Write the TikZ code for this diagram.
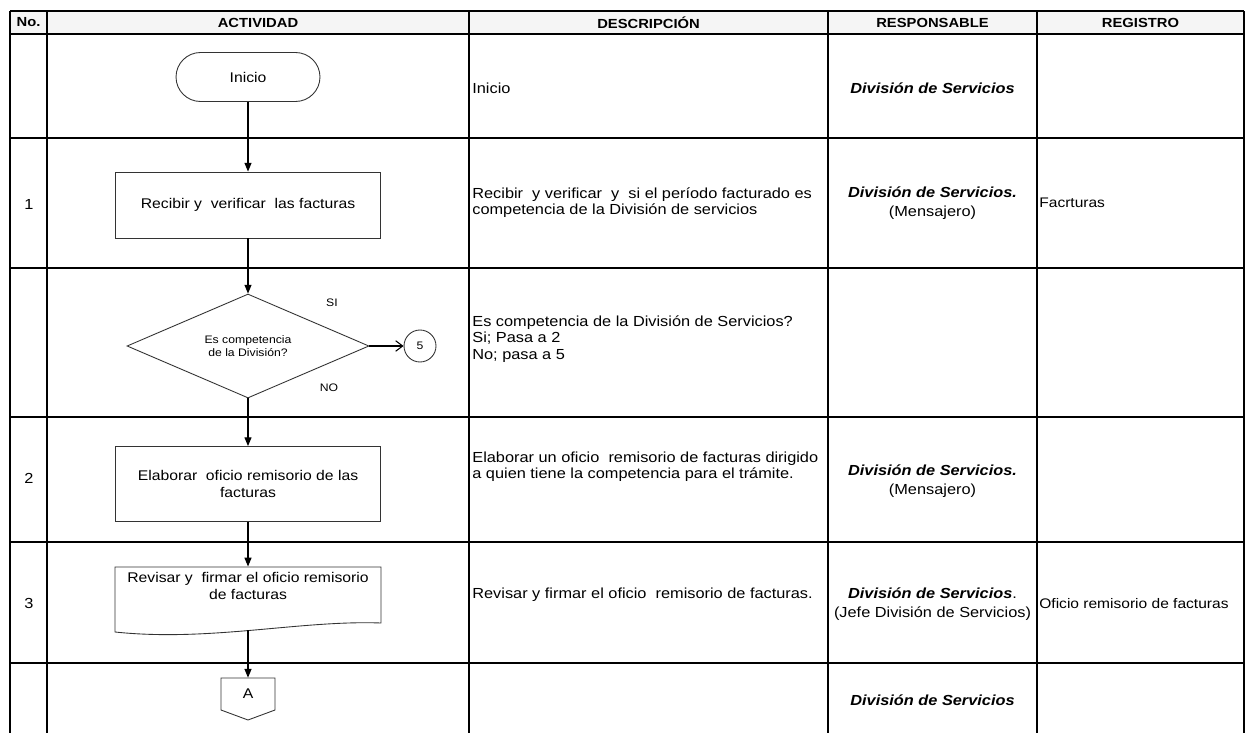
\documentclass[tikz,border=0pt]{standalone}
\usepackage{fontspec}
\setmainfont{Liberation Sans}[FakeStretch=1.12]
\usetikzlibrary{arrows.meta,shapes.geometric}

\tikzset{
  grid/.style={line width=1.2pt},
  shapeline/.style={draw=black!80, line width=0.5pt},
  actbox/.style={shapeline, minimum width=5.3cm, align=center, font=\fontsize{8}{9.5}\selectfont},
  desc/.style={align=left, anchor=west, inner sep=0pt, font=\fontsize{8.3}{9.2}\selectfont},
  reg/.style={desc, font=\fontsize{7.9}{9}\selectfont},
  resp/.style={align=center, inner sep=0pt, font=\fontsize{8.3}{11}\selectfont},
  head/.style={inner sep=0pt, font=\bfseries\fontsize{7.5}{9}\selectfont},
  small/.style={inner sep=0pt, font=\fontsize{6.2}{7.2}\selectfont},
  flow/.style={-{Triangle[length=5pt,width=4pt]}, line width=0.6pt},
  openflow/.style={-{Straight Barb[length=4pt,width=6pt]}, line width=0.6pt},
}

\begin{document}
\begin{tikzpicture}[x=0.02cm, y=-0.02cm]
        \useasboundingbox (0,0) rectangle (1246,733);

        % table
        \fill [gray!8] (10,11) rectangle (1244,34);
        \foreach \y in {11,34,138,268,417,542,663}
          \draw [grid] (10,\y) -- (1244,\y);
        \foreach \x in {10,47,469,828,1037,1244}
          \draw [grid] (\x,11) -- (\x,733);

        \node [head] (hno)   at (28.5,22.5)  {No.};
        \node [head] (hact)  at (258,22.5)   {ACTIVIDAD};
        \node [head] (hdesc) at (648.5,22.5) {DESCRIPCIÓN};
        \node [head] (hresp) at (932.5,22.5) {RESPONSABLE};
        \node [head] (hreg)  at (1140.5,22.5){REGISTRO};

        \node [resp] (no1) at (29,204) {1};
        \node [resp] (no2) at (29,478) {2};
        \node [resp] (no3) at (29,603) {3};

        % flow
        \node [shapeline, rounded corners=0.49cm, minimum width=2.88cm, minimum height=0.98cm,
               font=\fontsize{8}{10}\selectfont] (inicio) at (248,77) {Inicio};
        \node [actbox, minimum height=1.32cm] (recibir) at (248,205) {Recibir y \ verificar \ las facturas};
        \node [shapeline, diamond, aspect=2.3, inner sep=0pt, minimum width=4.84cm, minimum height=2.08cm,
               small, align=center] (decide) at (248,346) {Es competencia\\de la División?};
        \node [shapeline, circle, minimum size=0.64cm, inner sep=0pt, small] (cinco) at (420,346) {5};
        \node [small] (si) at (332,303) {SI};
        \node [small] (nono) at (329,388) {NO};
        \node [actbox, minimum height=1.5cm] (elaborar) at (248,484) {Elaborar \ oficio remisorio de las\\facturas};
        \node [actbox, draw=none, minimum height=1.12cm, text depth=10pt] (revisar) at (248,595)
              {Revisar y \ firmar el oficio remisorio\\de facturas};
        \draw [shapeline] (115,623) -- (115,567) -- (381,567) -- (381,623)
              .. controls (300,620) and (210,642) .. (115,632) -- cycle;
        \coordinate (revdoc) at (248,630);
        \draw [shapeline] (221,678) -- (275,678) -- (275,710) -- (248,720) -- (221,710) -- cycle;
        \node [inner sep=0pt, minimum width=1.08cm, minimum height=0.64cm,
               font=\fontsize{8}{10}\selectfont] (conA) at (248,694) {A};

        \draw [flow] (inicio) -- (recibir);
        \draw [flow] (recibir) -- (decide);
        \draw [flow] (decide) -- (elaborar);
        \draw [flow] (elaborar) -- (revisar);
        \draw [flow] (revdoc) -- (conA);
        \draw [openflow] (decide) -- (cinco);

        % descripcion
        \node [desc] (d0) at (472,88)  {Inicio};
        \node [desc] (d1) at (472,203) {Recibir \ y verificar \ y \ si el período facturado es\\competencia de la División de servicios};
        \node [desc] (d2) at (472,339) {Es competencia de la División de Servicios?\\Si; Pasa a 2\\No; pasa a 5};
        \node [desc] (d3) at (472,467) {Elaborar un oficio \ remisorio de facturas dirigido\\a quien tiene la competencia para el trámite.};
        \node [desc] (d4) at (472,595) {Revisar y firmar el oficio \ remisorio de facturas.};

        % responsable
        \node [resp] (r0) at (932.5,88)  {\textbf{\textit{División de Servicios}}};
        \node [resp] (r1) at (932.5,203) {\textbf{\textit{División de Servicios.}}\\(Mensajero)};
        \node [resp] (r3) at (932.5,481) {\textbf{\textit{División de Servicios.}}\\(Mensajero)};
        \node [resp] (r4) at (932.5,604) {\textbf{\textit{División de Servicios}}.\\(Jefe División de Servicios)};
        \node [resp] (r5) at (932.5,700) {\textbf{\textit{División de Servicios}}};

        % registro
        \node [reg] (g1) at (1039,203) {Facrturas};
        \node [reg] (g4) at (1039,604) {Oficio remisorio de facturas};
\end{tikzpicture}
\end{document}
